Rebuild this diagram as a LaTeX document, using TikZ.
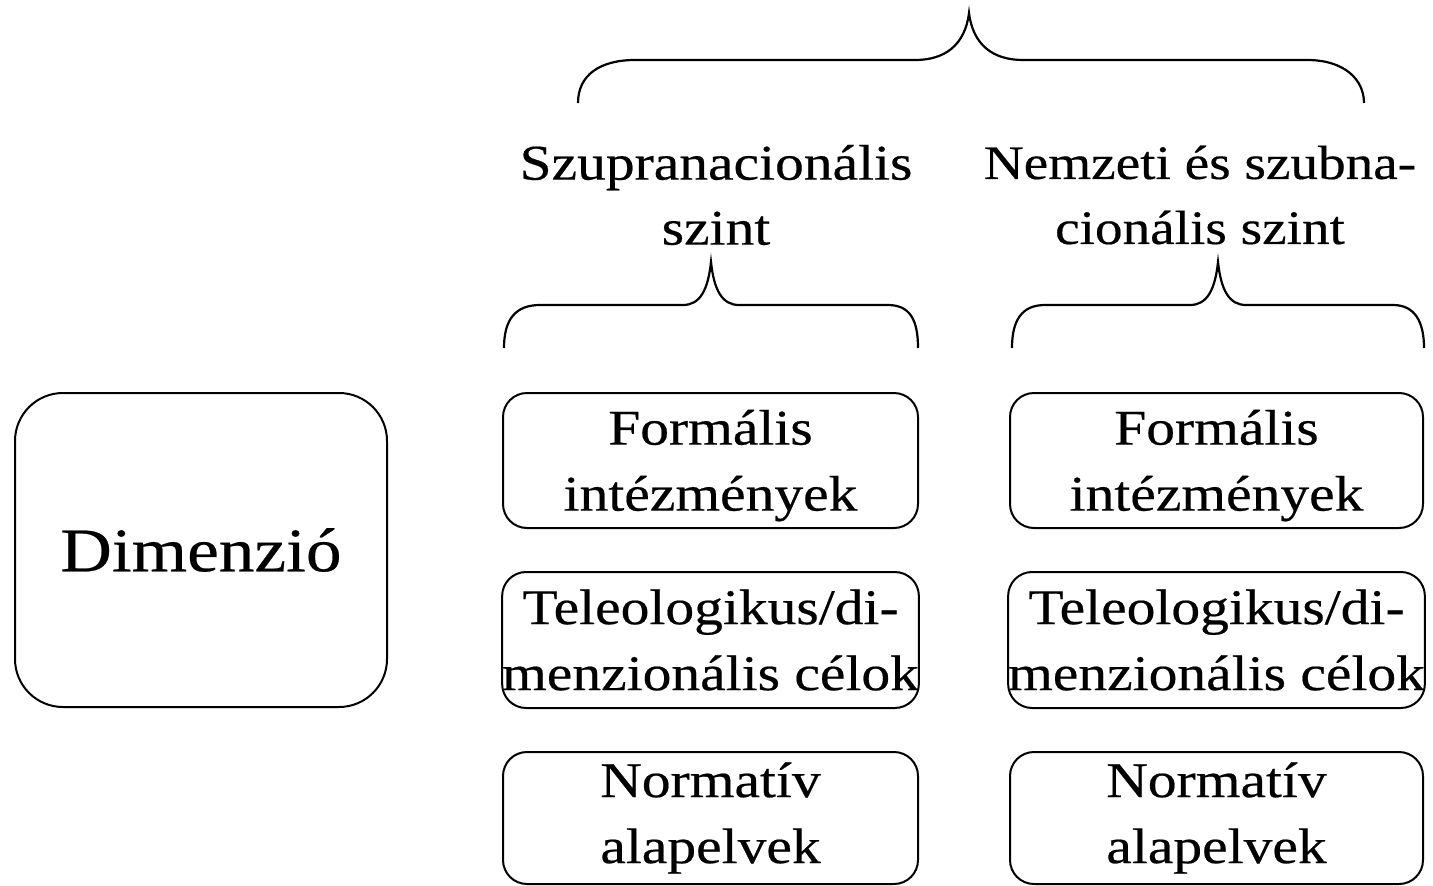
\documentclass[tikz,border=0pt]{standalone}
\usepackage{fontspec}
\setmainfont[FakeStretch=1.15,FakeBold=0.4]{Liberation Serif}
\begin{document}
\begin{tikzpicture}[x=1pt,y=-1pt,
  frame/.style={draw, line width=2pt, rounded corners=24pt, inner sep=0pt, align=center,
    font=\fontsize{50}{66}\selectfont},
  bigframe/.style={draw, line width=2pt, rounded corners=48pt, inner sep=0pt, align=center,
    font=\fontsize{62}{80}\selectfont, minimum width=372pt, minimum height=314pt},
  lbl/.style={inner sep=0pt, align=center, font=\fontsize{50}{65}\selectfont},
  brace/.style={draw, line width=2.2pt}]
\fill[white] (0,0) rectangle (1433,886);
\useasboundingbox (0,0) rectangle (1433,886);

\node[bigframe] (dim) at (201,550) {Dimenzió};

\node[frame, minimum width=415pt, minimum height=135pt] (f1) at (710.5,460.5) {\rule{0pt}{45pt}Formális\\intézmények};
\node[frame, minimum width=415pt, minimum height=136pt] (t1) at (710.5,640) {Teleologikus/di-\\menzionális célok};
\node[frame, minimum width=415pt, minimum height=132pt] (n1) at (710.5,818) {Normatív\\alapelvek};

\node[frame, minimum width=413pt, minimum height=135pt] (f2) at (1216.5,460.5) {\rule{0pt}{45pt}Formális\\intézmények};
\node[frame, minimum width=413pt, minimum height=136pt] (t2) at (1216.5,640) {Teleologikus/di-\\menzionális célok};
\node[frame, minimum width=413pt, minimum height=132pt] (n2) at (1216.5,818) {Normatív\\alapelvek};

\node[lbl] (sz) at (716,195) {Szupranacionális\\szint};
\node[lbl, font=\fontsize{48}{65}\selectfont] (nz) at (1200,195) {Nemzeti és szubna-\\cionális szint};

% top brace
\draw[brace] (578,103) .. controls (578,75) and (600,60) .. (635,60) -- (915,60)
  .. controls (945,60) and (965,45) .. (969,13)
  .. controls (973,45) and (993,60) .. (1023,60) -- (1307,60)
  .. controls (1345,60) and (1364,80) .. (1364,103);
% left small brace
\draw[brace] (504,348) .. controls (504,320) and (515,305) .. (540,305) -- (683,305)
  .. controls (700,305) and (708,290) .. (711,262)
  .. controls (714,290) and (722,305) .. (739,305) -- (888,305)
  .. controls (910,305) and (918,320) .. (918,348);
% right small brace
\draw[brace] (1012,348) .. controls (1012,320) and (1022,305) .. (1045,305) -- (1190,305)
  .. controls (1207,305) and (1215,290) .. (1218,262)
  .. controls (1221,290) and (1229,305) .. (1246,305) -- (1393,305)
  .. controls (1415,305) and (1424,322) .. (1424,348);
\end{tikzpicture}
\end{document}
